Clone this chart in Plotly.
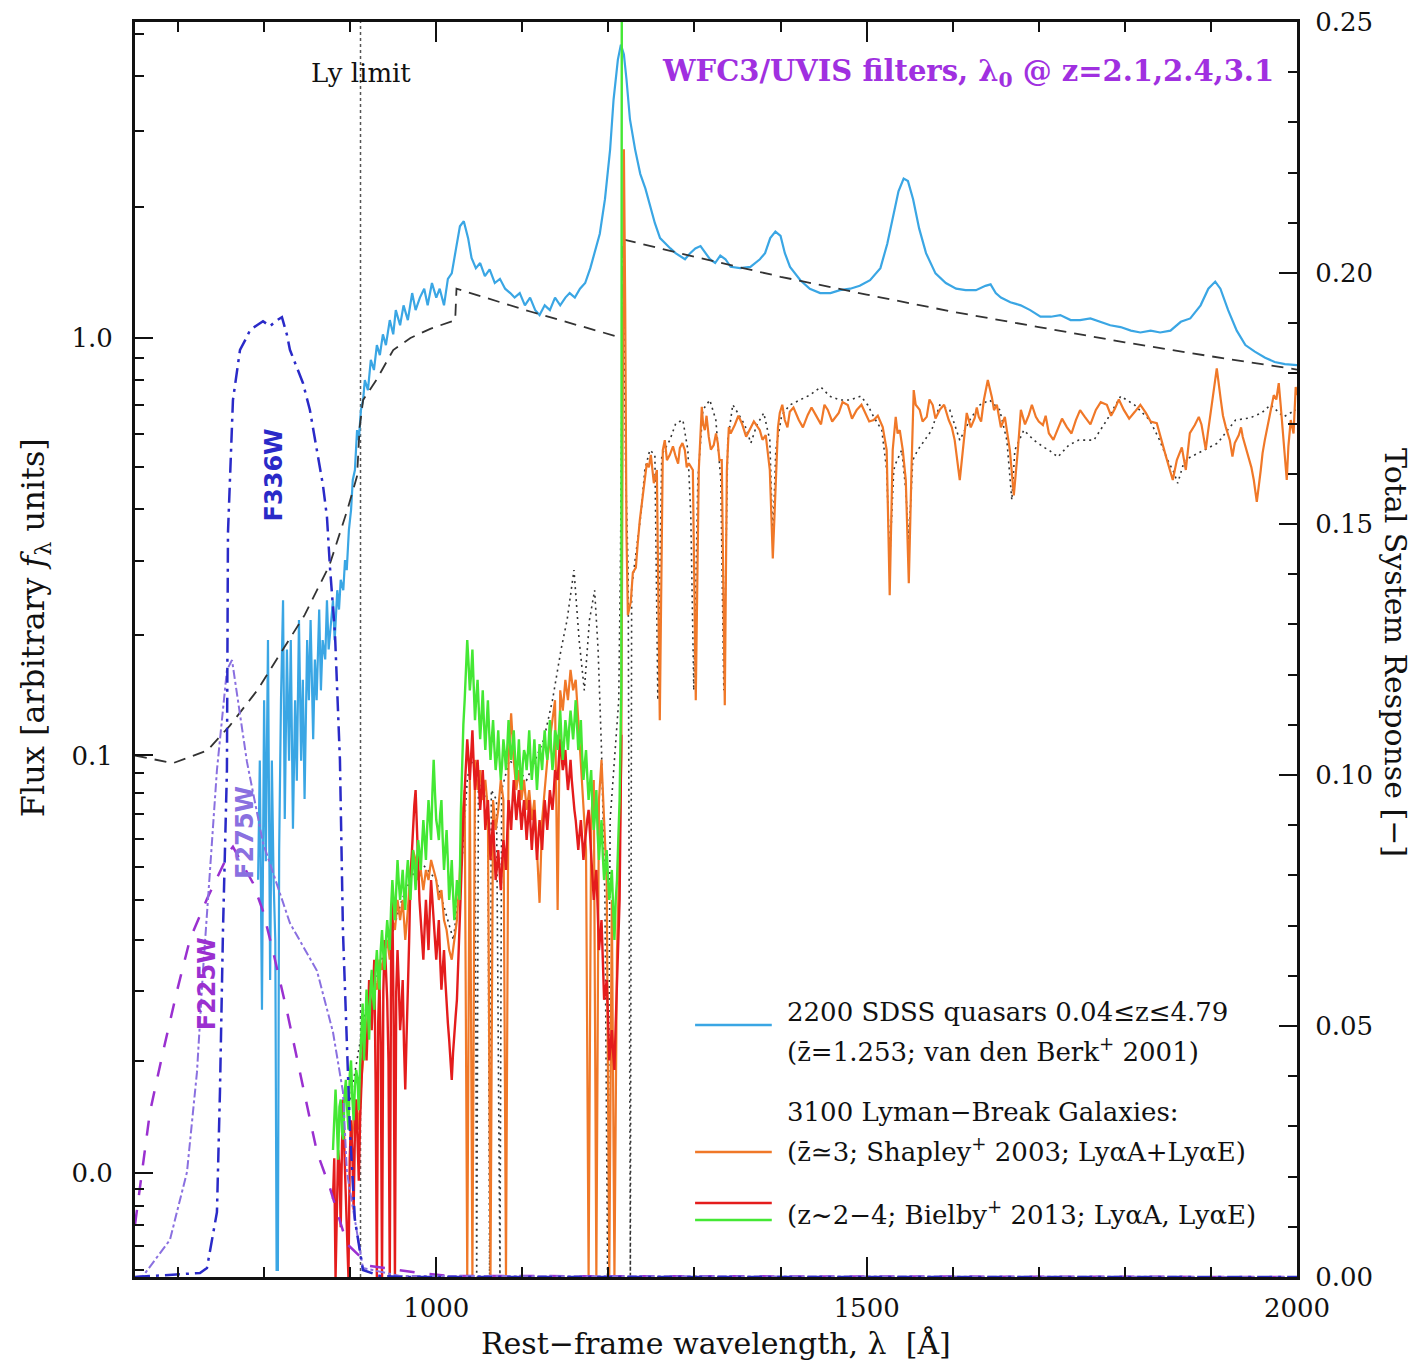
import plotly.graph_objects as go

# ---------------- data (flux in arbitrary f_lambda units, wavelengths in Angstrom) ----------------
OFFSET = 0.0125  # left axis is log10(flux + OFFSET)

qso_wave = [793, 795, 797.5, 800, 802, 804.5, 807, 809, 811, 813,
            814.5, 816, 817.5, 819.6, 822, 824, 826.5, 829, 831, 833.5,
            836, 838, 840.5, 843, 845, 847, 850, 852, 854, 857,
            859, 861, 864, 866, 868, 871, 873, 875, 878, 880,
            882, 885, 887, 889, 892, 894, 896, 898.5, 901, 903,
            905.5, 908, 910, 912.5, 915, 917, 920.6, 924, 927.6, 931,
            934.5, 938, 941.5, 946, 950, 953, 958, 962, 967, 972,
            976, 981, 986, 990, 995, 1000, 1004, 1009, 1013.5, 1018,
            1023, 1027.5, 1032, 1037, 1041, 1046, 1051, 1056.5, 1062, 1068,
            1074, 1080, 1086, 1091, 1097, 1103, 1109, 1115, 1120, 1126,
            1132, 1138, 1144, 1150, 1155, 1161, 1167, 1173, 1179, 1184,
            1190, 1196, 1202, 1206, 1211, 1214.5, 1218, 1221, 1225, 1231,
            1237, 1243, 1249, 1254, 1260, 1266, 1272, 1278, 1283, 1289,
            1295, 1301, 1307, 1313, 1318, 1324, 1330, 1336, 1342, 1353,
            1365, 1376, 1382, 1388, 1394, 1400, 1405, 1411, 1423, 1434,
            1446, 1458, 1469, 1481, 1492, 1504, 1516, 1524, 1531, 1537,
            1543, 1548, 1554, 1561, 1569, 1580, 1592, 1604, 1615, 1627,
            1638, 1644, 1650, 1656, 1667, 1679, 1690, 1702, 1714, 1725,
            1737, 1748, 1760, 1772, 1783, 1795, 1807, 1818, 1830, 1841,
            1853, 1865, 1876, 1888, 1897, 1905, 1911, 1920, 1930, 1940,
            1951, 1963, 1974, 1986, 2000]
qso_flux = [0.046, 0.097, 0.017, 0.138, 0.052, 0.194, 0.022, 0.097, 0.046, 0.030,
            -0.005, -0.005, 0.056, 0.138, 0.242, 0.068, 0.184, 0.097, 0.194, 0.064,
            0.138, 0.086, 0.217, 0.097, 0.155, 0.077, 0.194, 0.138, 0.217, 0.110,
            0.174, 0.138, 0.230, 0.146, 0.194, 0.174, 0.242, 0.184, 0.217, 0.242,
            0.194, 0.256, 0.230, 0.271, 0.256, 0.302, 0.286, 0.356, 0.397, 0.467,
            0.493, 0.611, 0.579, 0.681, 0.718, 0.799, 0.757, 0.89, 0.843, 0.963,
            0.913, 1.02, 0.963, 1.10, 1.02, 1.16, 1.07, 1.19, 1.10, 1.27,
            1.16, 1.24, 1.30, 1.19, 1.34, 1.24, 1.30, 1.19, 1.37, 1.41,
            1.61, 1.81, 1.86, 1.70, 1.53, 1.45, 1.49, 1.39, 1.44, 1.34,
            1.37, 1.30, 1.27, 1.24, 1.27, 1.19, 1.24, 1.16, 1.13, 1.19,
            1.16, 1.24, 1.19, 1.24, 1.27, 1.24, 1.30, 1.34, 1.45, 1.57,
            1.74, 2.09, 2.72, 3.54, 4.37, 4.73, 4.49, 3.94, 3.19, 2.72,
            2.39, 2.21, 1.99, 1.84, 1.70, 1.65, 1.61, 1.57, 1.55, 1.52,
            1.57, 1.61, 1.63, 1.57, 1.52, 1.49, 1.55, 1.52, 1.46, 1.45,
            1.46, 1.52, 1.57, 1.70, 1.76, 1.72, 1.57, 1.46, 1.36, 1.30,
            1.27, 1.27, 1.29, 1.30, 1.32, 1.36, 1.45, 1.65, 1.93, 2.18,
            2.33, 2.30, 2.09, 1.79, 1.57, 1.41, 1.34, 1.30, 1.29, 1.29,
            1.32, 1.33, 1.27, 1.24, 1.21, 1.19, 1.16, 1.12, 1.12, 1.13,
            1.10, 1.10, 1.11, 1.09, 1.07, 1.06, 1.04, 1.03, 1.04, 1.03,
            1.04, 1.09, 1.11, 1.19, 1.30, 1.35, 1.30, 1.16, 1.04, 0.963,
            0.93, 0.90, 0.88, 0.87, 0.865]

cont_wave = [650, 694, 734, 760, 792, 818, 847, 876, 896, 908,
             911, 915, 931, 950, 970, 993, 1022, 1023.5, 1110, 1216,
             1216.5, 1300, 1400, 1500, 1600, 1700, 1800, 1900, 2000]
cont_flux = [0.100, 0.0955, 0.103, 0.119, 0.146, 0.179, 0.223, 0.294, 0.393, 0.477,
             0.62, 0.718, 0.803, 0.938, 1.00, 1.05, 1.10, 1.30, 1.15, 1.00,
             1.69, 1.54, 1.385, 1.26, 1.15, 1.06, 0.977, 0.907, 0.845]

forest_wave = [880, 883, 886, 889, 892, 895, 898, 901, 904, 907, 910, 913, 916, 919, 922, 925,
               928, 931, 934, 937, 940, 943, 946, 949, 952, 955, 958, 961, 964, 967, 970, 973,
               976, 979, 982, 985, 988, 991, 994, 997, 1000, 1003, 1006, 1009, 1012, 1015, 1018,
               1021, 1024, 1027, 1030, 1033, 1036, 1039, 1042, 1045, 1048, 1051, 1054, 1057, 1060,
               1063, 1066, 1069, 1072, 1075, 1078, 1081, 1084, 1087, 1090, 1093, 1096, 1099, 1102,
               1105, 1108, 1111, 1114, 1117, 1120, 1123, 1126, 1129, 1132, 1135, 1138, 1141, 1144,
               1147, 1150, 1153, 1156, 1159, 1162, 1165, 1168, 1171, 1174, 1177, 1180, 1183, 1186,
               1189, 1192, 1195, 1198, 1201, 1204, 1207, 1210, 1213]
forest_wave_mid = [881.5, 884.5, 887.5, 890.5, 893.5, 896.5, 899.5, 902.5, 905.5, 908.5,
                   911.5, 914.5, 917.5, 920.5, 923.5, 926.5, 929.5, 932.5, 935.5, 938.5,
                   941.5, 944.5, 947.5, 950.5, 953.5, 956.5, 959.5, 962.5, 965.5, 968.5,
                   971.5, 974.5, 977.5, 980.5, 983.5, 986.5, 989.5, 992.5, 995.5, 998.5,
                   1001.5, 1004.5, 1007.5, 1010.5, 1013.5, 1016.5, 1019.5, 1022.5, 1025.5, 1028.5,
                   1031.5, 1034.5, 1037.5, 1040.5, 1043.5, 1046.5, 1049.5, 1052.5, 1055.5, 1058.5,
                   1061.5, 1064.5, 1067.5, 1070.5, 1073.5, 1076.5, 1079.5, 1082.5, 1085.5, 1088.5,
                   1091.5, 1094.5, 1097.5, 1100.5, 1103.5, 1106.5, 1109.5, 1112.5, 1115.5, 1118.5,
                   1121.5, 1124.5, 1127.5, 1130.5, 1133.5, 1136.5, 1139.5, 1142.5, 1145.5, 1148.5,
                   1151.5, 1154.5, 1157.5, 1160.5, 1163.5, 1166.5, 1169.5, 1172.5, 1175.5, 1178.5,
                   1181.5, 1184.5, 1187.5, 1190.5, 1193.5, 1196.5, 1199.5, 1202.5, 1205.5, 1208.5,
                   1211.5]

bielby_lyae_flux = [0.0016, 0.0069, 0.0009, 0.0059, 0.0024, 0.0079, 0.0032, 0.0101, 0.0040, 0.0090,
                    0.0049, 0.0127, 0.0101, 0.0203, 0.0127, 0.0239, 0.0170, 0.0279, 0.0203, 0.0324,
                    0.0239, 0.0348, 0.0279, 0.0459, 0.0348, 0.0524, 0.0401, 0.0491, 0.0374, 0.0524,
                    0.0401, 0.0559, 0.0429, 0.0596, 0.0491, 0.0676, 0.0524, 0.0765, 0.0596, 0.0974,
                    0.0676, 0.0596, 0.0765, 0.0491, 0.0635, 0.0401, 0.0524, 0.0348, 0.0459, 0.0401,
                    0.0974, 0.138, 0.194, 0.146, 0.184, 0.123, 0.155, 0.110, 0.146, 0.1033,
                    0.138, 0.0974, 0.123, 0.0917, 0.116, 0.0864, 0.110, 0.0917, 0.123, 0.0974,
                    0.116, 0.0864, 0.110, 0.0813, 0.1033, 0.0917, 0.116, 0.0864, 0.110, 0.0813,
                    0.107, 0.0917, 0.116, 0.0974, 0.123, 0.0917, 0.116, 0.1033, 0.130, 0.0974,
                    0.123, 0.1033, 0.130, 0.110, 0.138, 0.1033, 0.123, 0.0864, 0.1033, 0.0765,
                    0.0917, 0.0635, 0.0813, 0.0524, 0.0676, 0.0459, 0.0559, 0.0401, 0.0491, 0.0301,
                    0.0459, 0.0765]
bielby_lyae_mid = [0.0045, 0.0038, 0.0052, 0.0030, 0.0065, 0.0050, 0.0085, 0.0060, 0.0072, 0.0080,
                   0.0095, 0.0180, 0.0140, 0.0170, 0.0200, 0.0190, 0.0240, 0.0230, 0.0280, 0.0270,
                   0.0300, 0.0310, 0.0380, 0.0400, 0.0430, 0.0450, 0.0440, 0.0420, 0.0470, 0.0460,
                   0.0480, 0.0500, 0.0520, 0.0550, 0.0580, 0.0600, 0.0650, 0.0680, 0.0800, 0.0800,
                   0.0640, 0.0700, 0.0600, 0.0560, 0.0520, 0.0450, 0.0420, 0.0390, 0.0430, 0.0700,
                   0.1200, 0.1650, 0.1700, 0.1600, 0.1500, 0.1400, 0.1300, 0.1250, 0.1200, 0.1200,
                   0.1150, 0.1100, 0.1050, 0.1000, 0.0980, 0.0950, 0.1020, 0.1050, 0.1080, 0.1050,
                   0.1000, 0.0950, 0.0920, 0.0950, 0.1000, 0.1020, 0.0980, 0.0960, 0.0950, 0.0930,
                   0.1000, 0.1050, 0.1030, 0.1070, 0.1040, 0.1000, 0.1120, 0.1150, 0.1100, 0.1080,
                   0.1150, 0.1180, 0.1200, 0.1220, 0.1200, 0.1100, 0.1000, 0.0950, 0.0880, 0.0840,
                   0.0720, 0.0700, 0.0620, 0.0600, 0.0540, 0.0500, 0.0470, 0.0440, 0.0380, 0.0400,
                   0.0600]
lyae_peak_wave = [1215.0, 1215.6]
lyae_peak_flux = [0.15, 8.0]

bielby_lyaa_flux = [-0.0016, -0.0053, 0.0016, -0.0031, 0.0059, -0.0016, -0.0053, 0.0040, -0.0022, 0.0059,
                    -0.0005, 0.0079, 0.0155, 0.0101, 0.0220, 0.0140, 0.0259, -0.0053, 0.0220, -0.0053,
                    0.0301, 0.0186, -0.0053, 0.0401, -0.0053, 0.0279, 0.0140, 0.0220, 0.0069, 0.0186,
                    0.0459, 0.0676, 0.0813, 0.0459, 0.0348, 0.0259, 0.0401, 0.0279, 0.0459, 0.0348,
                    0.0259, 0.0348, 0.0203, 0.0279, 0.0170, 0.0127, 0.0079, 0.0140, 0.0186, 0.0348,
                    0.0524, 0.0813, 0.110, 0.0864, 0.116, 0.0813, 0.0974, 0.0720, 0.0917, 0.0635,
                    0.0765, 0.0524, 0.0676, 0.0459, 0.0559, 0.0429, 0.0596, 0.0491, 0.0765, 0.0635,
                    0.0864, 0.0676, 0.0813, 0.0635, 0.0765, 0.0596, 0.0765, 0.0559, 0.0720, 0.0524,
                    0.0676, 0.0559, 0.0765, 0.0635, 0.0813, 0.0720, 0.0917, 0.0864, 0.110, 0.0917,
                    0.1033, 0.0813, 0.0974, 0.0765, 0.0676, 0.0559, 0.0676, 0.0524, 0.0635, 0.0720,
                    0.0524, 0.0401, 0.0491, 0.0279, 0.0348, 0.0186, 0.0220, 0.0101, 0.0140, 0.0090,
                    0.0220, 0.0401]
bielby_lyaa_mid = [0.0010, -0.0010, 0.0005, 0.0020, 0.0010, -0.0035, 0.0010, 0.0015, 0.0030, 0.0025,
                   0.0040, 0.0110, 0.0130, 0.0150, 0.0180, 0.0200, 0.0080, 0.0150, 0.0120, 0.0200,
                   0.0240, 0.0100, 0.0250, 0.0150, 0.0200, 0.0210, 0.0170, 0.0120, 0.0130, 0.0300,
                   0.0560, 0.0740, 0.0620, 0.0400, 0.0300, 0.0330, 0.0340, 0.0370, 0.0400, 0.0300,
                   0.0300, 0.0260, 0.0240, 0.0220, 0.0150, 0.0100, 0.0110, 0.0160, 0.0260, 0.0430,
                   0.0680, 0.0950, 0.0980, 0.1000, 0.0950, 0.0900, 0.0850, 0.0800, 0.0780, 0.0700,
                   0.0640, 0.0600, 0.0560, 0.0500, 0.0490, 0.0510, 0.0550, 0.0620, 0.0700, 0.0750,
                   0.0760, 0.0740, 0.0720, 0.0700, 0.0680, 0.0670, 0.0650, 0.0640, 0.0620, 0.0600,
                   0.0620, 0.0660, 0.0700, 0.0720, 0.0760, 0.0800, 0.0890, 0.0980, 0.1000, 0.0960,
                   0.0900, 0.0880, 0.0860, 0.0720, 0.0610, 0.0620, 0.0600, 0.0580, 0.0680, 0.0620,
                   0.0460, 0.0450, 0.0380, 0.0310, 0.0260, 0.0200, 0.0160, 0.0120, 0.0110, 0.0150,
                   0.0300]
lyaa_end_wave = [1215.0]
lyaa_end_flux = [0.113]

shapley_forest_flux = [0.0016, 0.0040, 0.0059, 0.0032, 0.0079, 0.0114, 0.0140, 0.0186, 0.0170, 0.0220,
                       0.0203, 0.0259, 0.0239, 0.0279, 0.0301, 0.0259, 0.0348, 0.0324, 0.0401, 0.0348,
                       0.0401, 0.0301, 0.0374, 0.0491, 0.0559, 0.0524, 0.0459, 0.0491, 0.0429, 0.0491,
                       0.0459, 0.0524, 0.0491, 0.0459, 0.0401, 0.0429, 0.0348, 0.0324, 0.0279, 0.0259,
                       0.0301, 0.0348, 0.0459, 0.0676, 0.0813, -0.0053, 0.0864, -0.0053, 0.0974, 0.0813,
                       0.0917, 0.0765, 0.0864, 0.0720, -0.0053, 0.0765, 0.0635, 0.0720, 0.0864, 0.0765,
                       -0.0053, 0.0974, 0.128, 0.0974, 0.0813, 0.0917, 0.0765, 0.0864, 0.0720, 0.0813,
                       0.0676, 0.0765, 0.0559, 0.0393, 0.0676, 0.0813, 0.0974, 0.110, 0.123, 0.138,
                       0.0374, 0.146, 0.130, 0.155, 0.138, 0.164, 0.146, 0.155, 0.123, 0.0974,
                       0.0765, 0.0559, -0.0053, 0.0676, 0.0864, -0.0053, 0.0765, 0.0974, 0.0676, 0.0459,
                       -0.0053, 0.0401, -0.0053, 0.0279, 0.0559]

shapley_red_wave = [1215, 1216.5, 1218, 1219.5, 1221, 1222.6,
                    1228.4, 1231.9, 1236.5, 1242.3, 1244.6, 1249.3, 1252.8, 1256.3, 1259.7, 1263.2,
                    1265.5, 1271.4, 1278.3, 1283.0, 1288.8, 1293.4, 1298.1, 1301.5, 1305.0, 1308.5,
                    1312.0, 1316.6, 1322.4, 1327.1, 1331.7, 1335.2, 1337.6, 1339.9, 1346.8, 1355.0,
                    1364.2, 1375.9, 1382.8, 1387.5, 1391.0, 1394.5, 1399.1, 1404.9, 1410.7, 1421.2,
                    1431.6, 1442.1, 1454.9, 1467.6, 1478.1, 1488.5, 1499.0, 1508.2, 1518.7, 1523.3,
                    1526.8, 1530.3, 1533.8, 1538.5, 1542.0, 1545.5, 1549.0, 1552.4, 1554.7, 1561.7,
                    1569.8, 1576.8, 1584.9, 1595.4, 1602.3, 1608.2, 1612.8, 1616.3, 1625.6, 1630.3,
                    1636.2, 1640.8, 1645.5, 1651.3, 1660.6, 1666.4, 1671.0, 1675.7, 1679.2, 1688.5,
                    1696.6, 1704.8, 1711.7, 1722.2, 1732.6, 1743.1, 1753.5, 1766.3, 1779.1, 1788.4,
                    1798.8, 1811.6, 1824.4, 1837.1, 1843.0, 1847.6, 1852.3, 1855.7, 1860.4, 1866.2,
                    1870.8, 1875.5, 1881.3, 1885.9, 1891.8, 1896.4, 1902.2, 1906.8, 1911.5, 1917.3,
                    1921.9, 1927.7, 1932.4, 1937.0, 1944.0, 1949.8, 1953.3, 1957.9, 1962.6, 1967.2,
                    1973.0, 1978.8, 1983.4, 1988.1, 1992.7, 1998.5, 2000]
shapley_red_flux = [0.10, 0.6, 2.72, 1.2, 0.35, 0.223,
                    0.282, 0.29, 0.376, 0.475, 0.511, 0.535, 0.459, 0.493, 0.123, 0.549,
                    0.579, 0.535, 0.529, 0.555, 0.549, 0.511, 0.493, 0.138, 0.493, 0.692,
                    0.611, 0.589, 0.564, 0.57, 0.52, 0.134, 0.493, 0.621, 0.628, 0.634,
                    0.611, 0.611, 0.595, 0.493, 0.305, 0.493, 0.67, 0.645, 0.674, 0.645,
                    0.663, 0.656, 0.681, 0.67, 0.699, 0.681, 0.663, 0.645, 0.621, 0.549,
                    0.249, 0.549, 0.656, 0.611, 0.549, 0.467, 0.266, 0.52, 0.757, 0.681,
                    0.656, 0.699, 0.681, 0.645, 0.579, 0.467, 0.579, 0.67, 0.652, 0.656,
                    0.718, 0.799, 0.729, 0.70, 0.656, 0.549, 0.43, 0.549, 0.681, 0.663,
                    0.656, 0.628, 0.601, 0.618, 0.621, 0.645, 0.656, 0.681, 0.70, 0.685,
                    0.681, 0.674, 0.67, 0.634, 0.579, 0.532, 0.493, 0.467, 0.52, 0.557,
                    0.493, 0.601, 0.628, 0.656, 0.579, 0.601, 0.718, 0.85, 0.718, 0.621,
                    0.579, 0.57, 0.595, 0.589, 0.52, 0.467, 0.415, 0.493, 0.579, 0.645,
                    0.737, 0.786, 0.611, 0.467, 0.645, 0.77, 0.737]
shapley_red_extra_wave = [1226, 1234, 1240, 1247, 1268, 1275, 1281, 1286, 1291, 1310,
                          1314, 1319, 1325, 1329, 1342, 1351, 1360, 1369, 1379, 1397,
                          1402, 1408, 1415, 1426, 1436, 1447, 1451, 1460, 1472, 1483,
                          1494, 1503, 1513, 1536, 1557, 1565, 1573, 1580, 1590, 1599,
                          1621, 1628, 1633, 1648, 1656, 1684, 1692, 1700, 1708, 1717,
                          1727, 1738, 1748, 1760, 1772, 1784, 1793, 1805, 1818, 1830,
                          1889, 1894, 1899, 1914, 1925, 1935, 1941, 1947, 1960, 1970,
                          1976, 1981, 1986, 1990, 1996]
shapley_red_extra_flux = [0.24, 0.33, 0.43, 0.50, 0.52, 0.56, 0.51, 0.57, 0.50, 0.63,
                          0.66, 0.55, 0.60, 0.52, 0.60, 0.66, 0.59, 0.64, 0.58, 0.62,
                          0.70, 0.62, 0.69, 0.62, 0.69, 0.63, 0.70, 0.64, 0.71, 0.65,
                          0.70, 0.64, 0.66, 0.60, 0.70, 0.64, 0.72, 0.65, 0.70, 0.62,
                          0.62, 0.69, 0.64, 0.68, 0.62, 0.63, 0.70, 0.64, 0.66, 0.58,
                          0.65, 0.60, 0.68, 0.63, 0.71, 0.66, 0.72, 0.65, 0.70, 0.64,
                          0.63, 0.55, 0.66, 0.66, 0.53, 0.62, 0.55, 0.50, 0.54, 0.69,
                          0.72, 0.70, 0.52, 0.56, 0.60]

dot_wave = [900, 910, 920, 930, 940, 950, 960, 970, 980, 990,
            1000, 1010, 1020, 1030, 1036, 1040, 1045, 1047, 1049, 1055,
            1060, 1062, 1064, 1070, 1074, 1076, 1085, 1095, 1105, 1115,
            1125, 1135, 1145, 1152, 1160, 1166, 1172, 1178, 1184, 1188,
            1192, 1196, 1199, 1202, 1207, 1212, 1214, 1217, 1220, 1223,
            1225.5, 1227, 1237.7, 1242.3, 1248.1, 1254.0, 1257.4, 1262.0, 1271.4, 1278.3,
            1286.5, 1292.3, 1295.7, 1299.2, 1303.9, 1309.7, 1317.8, 1324.8, 1330.6, 1334.1,
            1338.7, 1344.5, 1350.3, 1358.5, 1365.5, 1372.4, 1380.5, 1387.5, 1391.0, 1394.5,
            1401.4, 1410.7, 1422.3, 1434.0, 1446.7, 1457.2, 1468.8, 1480.4, 1493.2, 1501.3,
            1508.2, 1517.6, 1523.3, 1526.8, 1531.5, 1533.8, 1540.8, 1545.5, 1549.0, 1553.6,
            1559.4, 1567.5, 1575.6, 1584.9, 1596.6, 1608.2, 1619.8, 1631.4, 1643.0, 1654.6,
            1662.9, 1668.7, 1672.2, 1682.6, 1694.2, 1705.9, 1711.7, 1722.2, 1735.0, 1746.5,
            1764.0, 1779.1, 1795.2, 1811.4, 1828.8, 1840.4, 1849.7, 1856.7, 1861.4, 1869.4,
            1881.1, 1892.7, 1907.8, 1919.4, 1928.7, 1944.9, 1958.9, 1969.4, 1984.4, 1998.5]
dot_flux = [0.0059, 0.0114, 0.0186, 0.022, 0.0279, 0.0324, 0.0401, 0.0459, 0.0524, 0.0491,
            0.0459, 0.0374, 0.0301, 0.0524, 0.0864, 0.0974, 0.0917, -0.0053, 0.0864, 0.0813,
            0.0765, -0.0053, 0.0813, 0.0765, -0.0053, 0.0813, 0.0974, 0.0917, 0.0864, 0.0974,
            0.110, 0.138, 0.184, 0.217, 0.286, 0.194, 0.146, 0.217, 0.256, 0.184,
            0.1033, 0.0401, -0.0053, 0.0676, 0.0974, 0.138, 0.30, 1.6, 0.5, 0.28,
            -0.0053, 0.26, 0.387, 0.493, 0.549, 0.535, 0.138, 0.535, 0.579, 0.634,
            0.645, 0.549, 0.387, 0.146, 0.467, 0.681, 0.718, 0.645, 0.467, 0.146,
            0.579, 0.70, 0.67, 0.628, 0.57, 0.628, 0.67, 0.579, 0.337, 0.549,
            0.663, 0.699, 0.718, 0.737, 0.77, 0.733, 0.718, 0.718, 0.733, 0.699,
            0.656, 0.611, 0.493, 0.302, 0.493, 0.511, 0.549, 0.442, 0.337, 0.52,
            0.549, 0.579, 0.611, 0.699, 0.681, 0.579, 0.645, 0.699, 0.718, 0.681,
            0.579, 0.419, 0.549, 0.611, 0.579, 0.557, 0.549, 0.529, 0.564, 0.579,
            0.579, 0.645, 0.733, 0.699, 0.645, 0.579, 0.52, 0.488, 0.459, 0.52,
            0.535, 0.549, 0.57, 0.611, 0.645, 0.652, 0.67, 0.70, 0.656, 0.681]

# WFC3/UVIS filter total system response (right axis), shifted to rest frame
f336w_wave = [650, 702, 725.5, 733.6, 745.2, 748.7, 752.2, 756.8, 757.4, 758.0,
              763.8, 772, 780.1, 783.6, 791.7, 798.7, 806.8, 814.9, 820.7, 826.5,
              830.0, 837.0, 845.1, 853.2, 861.4, 868.3, 873.0, 876.5, 882.3, 885.8,
              888.1, 891.6, 896.2, 899.8, 905.5, 914.8, 934.5, 960, 2000]
f336w_resp = [0.0, 0.0005, 0.0008, 0.0018, 0.0129, 0.0369, 0.0689, 0.1010, 0.1163, 0.1482,
              0.1747, 0.1847, 0.1873, 0.1886, 0.1896, 0.1904, 0.1894, 0.1906, 0.1912, 0.1877,
              0.1847, 0.1817, 0.1781, 0.1727, 0.1647, 0.1578, 0.1514, 0.1414, 0.1283, 0.1149,
              0.1030, 0.0689, 0.0448, 0.0289, 0.0114, 0.0014, 0.0002, 0.0, 0.0]
f275w_wave = [650, 659.3, 690.6, 710.4, 722.0, 729.0, 737.1, 745.2, 756.8, 762.7,
              780.1, 798.7, 830.0, 861.4, 880.0, 891.6, 896.2, 914.8, 957.8, 2000]
f275w_resp = [0.0, 0.0002, 0.0074, 0.0209, 0.0408, 0.0610, 0.0809, 0.1010, 0.1209, 0.1229,
              0.1026, 0.0865, 0.0705, 0.0610, 0.0488, 0.0369, 0.0209, 0.0018, 0.0002, 0.0]
f225w_wave = [650, 667.4, 682.5, 698.8, 713.9, 733.6, 760.3, 763.8, 787.0, 798.7,
              810.3, 826.5, 841.6, 861.4, 876.5, 896.2, 922.9, 981.0, 1016, 2000]
f225w_resp = [0.0104, 0.0329, 0.0448, 0.0570, 0.0673, 0.0753, 0.0849, 0.0857, 0.0785, 0.0729,
              0.0649, 0.0530, 0.0408, 0.0249, 0.0177, 0.0066, 0.0022, 0.0008, 0.0002, 0.0]

flux_major_ticks = [0.0, 0.1, 1.0]
flux_major_labels = ["0.0", "0.1", "1.0"]
flux_minor_ticks = [-0.005, -0.004, -0.003, -0.002, -0.001,
                    0.01, 0.02, 0.03, 0.04, 0.05, 0.06, 0.07, 0.08, 0.09,
                    0.2, 0.3, 0.4, 0.5, 0.6, 0.7, 0.8, 0.9, 2, 3, 4, 5]
LY_LIMIT = 912.0

# ---------------- styling ----------------
QSO_C = "#3aa6e4"
LBG_C = "#f07828"
RED_C = "#e41c1c"
GRN_C = "#44e834"
F336_C = "#2a2ac8"
F275_C = "#8a70e0"
F225_C = "#9a30d0"
TXT_PURPLE = "#a030e0"
INK = "#111111"
FONT = "DejaVu Serif"


def lift(vals):
    return [v + OFFSET for v in vals]


def merged(wa, fa, wb, fb):
    pairs = sorted(zip(list(wa) + list(wb), list(fa) + list(fb)), key=lambda p: p[0])
    return [p[0] for p in pairs], [p[1] for p in pairs]


fig = go.Figure()

fig.add_trace(go.Scatter(x=f225w_wave, y=f225w_resp, yaxis="y2", mode="lines",
                         line=dict(color=F225_C, width=2.5, dash="longdash")))
fig.add_trace(go.Scatter(x=f275w_wave, y=f275w_resp, yaxis="y2", mode="lines",
                         line=dict(color=F275_C, width=2, dash="dashdot")))
fig.add_trace(go.Scatter(x=f336w_wave, y=f336w_resp, yaxis="y2", mode="lines",
                         line=dict(color=F336_C, width=2.5, dash="longdashdot")))

fig.add_trace(go.Scatter(x=qso_wave, y=lift(qso_flux), mode="lines",
                         line=dict(color=QSO_C, width=2.2)))
fig.add_trace(go.Scatter(x=cont_wave, y=lift(cont_flux), mode="lines",
                         line=dict(color="#333333", width=1.8, dash="12px,8px")))
fig.add_trace(go.Scatter(x=dot_wave, y=lift(dot_flux), mode="lines",
                         line=dict(color="#333333", width=1.6, dash="2px,4px")))

lbg_w, lbg_f = merged(forest_wave[7:] + shapley_red_wave, shapley_forest_flux + shapley_red_flux,
                      shapley_red_extra_wave, shapley_red_extra_flux)
fig.add_trace(go.Scatter(x=lbg_w, y=lift(lbg_f), mode="lines", line=dict(color=LBG_C, width=2.2)))

red_w, red_f = merged(forest_wave + lyaa_end_wave, bielby_lyaa_flux + lyaa_end_flux,
                      forest_wave_mid, bielby_lyaa_mid)
fig.add_trace(go.Scatter(x=red_w, y=lift(red_f), mode="lines", line=dict(color=RED_C, width=2.4)))

grn_w, grn_f = merged(forest_wave + lyae_peak_wave, bielby_lyae_flux + lyae_peak_flux,
                      forest_wave_mid, bielby_lyae_mid)
fig.add_trace(go.Scatter(x=grn_w, y=lift(grn_f), mode="lines", line=dict(color=GRN_C, width=2.4)))

# Lyman limit marker
fig.add_shape(type="line", xref="x", yref="paper", x0=LY_LIMIT, x1=LY_LIMIT, y0=0, y1=1,
              line=dict(color="#555555", width=1.5, dash="dot"), layer="below")

# legend (drawn by hand as in the original)
leg_x0, leg_x1 = 0.482, 0.548
for yy, col in [(0.2008, QSO_C), (0.0996, LBG_C), (0.059, RED_C), (0.0454, GRN_C)]:
    fig.add_shape(type="line", xref="paper", yref="paper", x0=leg_x0, x1=leg_x1, y0=yy, y1=yy,
                  line=dict(color=col, width=2.5))

leg_texts = [
    ("2200 SDSS quasars 0.04≤z≤4.79", 0.2112),
    ("(z\u0304=1.253; van den Berk<sup>+</sup> 2001)", 0.1809),
    ("3100 Lyman\u2212Break Galaxies:", 0.1315),
    ("(z\u0304\u22433; Shapley<sup>+</sup> 2003; LyαA+LyαE)", 0.1012),
    ("(z~2\u22124; Bielby<sup>+</sup> 2013; LyαA, LyαE)", 0.051),
]
annotations = []
for txt, yy in leg_texts:
    annotations.append(dict(text=txt, xref="paper", yref="paper", x=0.5594, y=yy,
                            xanchor="left", yanchor="middle", showarrow=False,
                            font=dict(family=FONT, size=26, color=INK)))

annotations += [
    dict(text="Rest\u2212frame wavelength, λ\u00a0\u00a0[Å]", xref="paper", yref="paper",
         x=0.5, y=-0.0526, xanchor="center", yanchor="middle", showarrow=False,
         font=dict(family=FONT, size=30, color=INK)),
    dict(text="Flux [arbitrary <i>f</i><sub>λ</sub> units]", xref="paper", yref="paper",
         x=-0.086, y=0.517, xanchor="center", yanchor="middle", showarrow=False, textangle=-90,
         font=dict(family=FONT, size=32, color=INK)),
    dict(text="Total System Response [\u2212]", xref="paper", yref="paper",
         x=1.0852, y=0.498, xanchor="center", yanchor="middle", showarrow=False, textangle=90,
         font=dict(family=FONT, size=30, color=INK)),
    dict(text="Ly limit", xref="x", yref="paper", x=LY_LIMIT, y=0.9594,
         xanchor="center", yanchor="middle", showarrow=False,
         font=dict(family=FONT, size=26, color=INK)),
    dict(text="<b>WFC3/UVIS filters, λ<sub>0</sub> @ z=2.1,2.4,3.1</b>", xref="paper", yref="paper",
         x=0.4518, y=0.9594, xanchor="left", yanchor="middle", showarrow=False,
         font=dict(family=FONT, size=29, color=TXT_PURPLE)),
    dict(text="<b>F336W</b>", xref="x", yref="y2", x=811, y=0.1598, textangle=-90,
         showarrow=False, font=dict(family="DejaVu Sans", size=24, color=F336_C)),
    dict(text="<b>F275W</b>", xref="x", yref="y2", x=778, y=0.0885, textangle=-90,
         showarrow=False, font=dict(family="DejaVu Sans", size=24, color=F275_C)),
    dict(text="<b>F225W</b>", xref="x", yref="y2", x=733, y=0.0584, textangle=-90,
         showarrow=False, font=dict(family="DejaVu Sans", size=24, color=F225_C)),
]

fig.update_layout(
    width=1408, height=1354,
    margin=dict(l=127, r=119, t=14, b=85, autoexpand=False),
    paper_bgcolor="white", plot_bgcolor="white",
    showlegend=False,
    font=dict(family=FONT, size=26, color=INK),
    annotations=annotations,
    xaxis=dict(range=[650, 2000], tickmode="linear", tick0=0, dtick=500,
               ticks="inside", ticklen=20, tickwidth=2, tickcolor=INK,
               showline=True, linewidth=3, linecolor=INK, mirror="ticks",
               showgrid=False, zeroline=False, tickfont=dict(size=26),
               ticklabelstandoff=6, ticklabeloverflow="allow", automargin=False,
               minor=dict(tickmode="linear", tick0=0, dtick=100, ticks="inside",
                          ticklen=10, tickwidth=1.5, tickcolor=INK, showgrid=False)),
    yaxis=dict(type="log", range=[-2.1409, 0.7277], tickmode="array",
               tickvals=lift(flux_major_ticks), ticktext=flux_major_labels,
               ticks="inside", ticklen=18, tickwidth=2, tickcolor=INK,
               showline=True, linewidth=3, linecolor=INK, mirror=False,
               showgrid=False, zeroline=False, tickfont=dict(size=26),
               ticklabelstandoff=14, automargin=False,
               minor=dict(tickmode="array", tickvals=lift(flux_minor_ticks), ticks="inside",
                          ticklen=9, tickwidth=1.5, tickcolor=INK, showgrid=False)),
    yaxis2=dict(overlaying="y", side="right", range=[0, 0.25], tickmode="linear",
                tick0=0, dtick=0.05, tickformat=".2f",
                ticks="inside", ticklen=18, tickwidth=2, tickcolor=INK,
                showline=True, linewidth=3, linecolor=INK,
                showgrid=False, zeroline=False, tickfont=dict(size=26),
                ticklabelstandoff=10, ticklabeloverflow="allow", automargin=False,
                minor=dict(tickmode="linear", tick0=0, dtick=0.01, ticks="inside",
                           ticklen=9, tickwidth=1.5, tickcolor=INK, showgrid=False)),
)

fig.write_html("out.html")
